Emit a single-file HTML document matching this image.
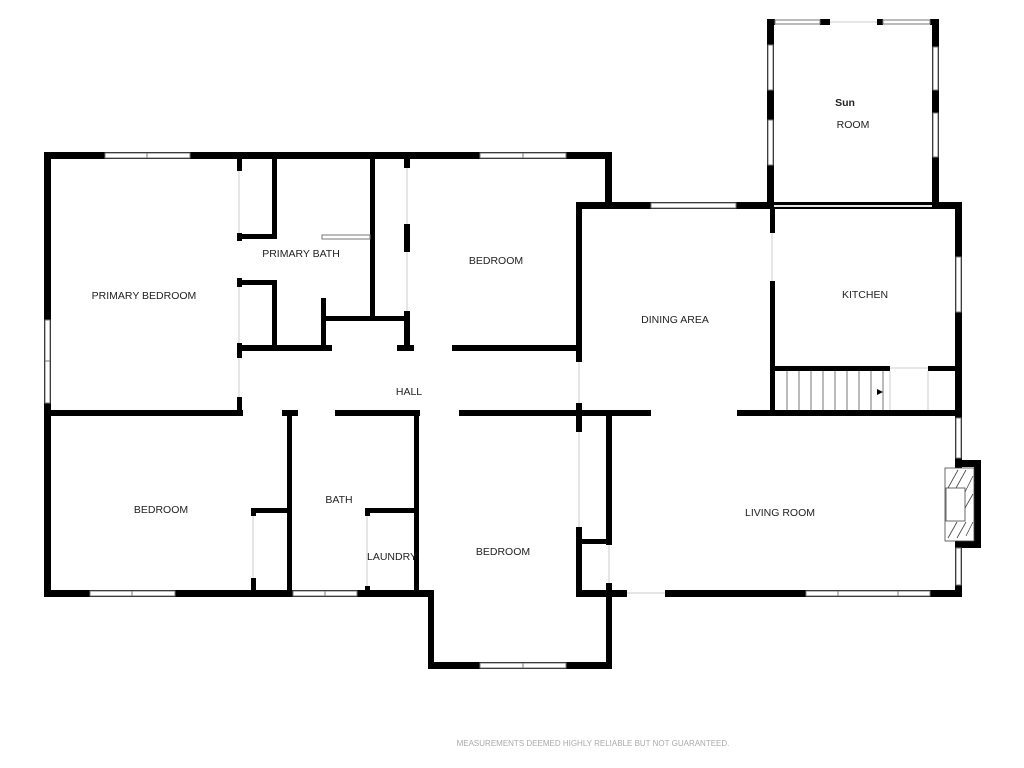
<!DOCTYPE html>
<html><head><meta charset="utf-8"><style>
html,body{margin:0;padding:0;background:#fff;}
svg{display:block;}
text{font-family:"Liberation Sans",sans-serif;font-size:10.5px;fill:#222;text-anchor:middle;}
</style></head><body>
<svg width="1024" height="768" viewBox="0 0 1024 768" xmlns="http://www.w3.org/2000/svg">
<g fill="#000">
<rect x="44" y="152" width="568" height="7"/>
<rect x="44" y="152" width="7" height="445"/>
<rect x="605" y="152" width="7" height="55"/>
<rect x="576" y="202" width="386" height="7"/>
<rect x="576" y="202" width="6" height="160"/>
<rect x="576" y="403" width="6" height="29"/>
<rect x="767" y="19" width="7" height="188"/>
<rect x="932" y="19" width="7" height="188"/>
<rect x="767" y="19" width="8" height="6"/>
<rect x="820" y="19" width="10" height="6"/>
<rect x="877" y="19" width="6" height="6"/>
<rect x="930" y="19" width="9" height="6"/>
<rect x="955" y="202" width="7" height="395"/>
<rect x="770" y="209" width="5" height="24"/>
<rect x="770" y="281" width="5" height="135"/>
<rect x="770" y="366" width="120" height="5"/>
<rect x="928" y="366" width="34" height="5"/>
<rect x="237" y="159" width="5" height="12"/>
<rect x="237" y="233" width="5" height="8"/>
<rect x="237" y="278" width="5" height="9"/>
<rect x="237" y="343" width="5" height="15"/>
<rect x="237" y="397" width="5" height="16"/>
<rect x="239" y="234" width="38" height="5"/>
<rect x="272" y="159" width="5" height="80"/>
<rect x="239" y="280" width="38" height="5"/>
<rect x="272" y="280" width="5" height="70"/>
<rect x="239" y="345" width="93" height="6"/>
<rect x="397" y="345" width="17" height="6"/>
<rect x="452" y="345" width="127" height="6"/>
<rect x="321" y="298" width="5" height="52"/>
<rect x="321" y="316" width="87" height="5"/>
<rect x="370" y="159" width="5" height="162"/>
<rect x="404" y="159" width="6" height="9"/>
<rect x="404" y="224" width="6" height="28"/>
<rect x="404" y="311" width="6" height="40"/>
<rect x="44" y="410" width="199" height="6"/>
<rect x="282" y="410" width="16" height="6"/>
<rect x="335" y="410" width="85" height="6"/>
<rect x="459" y="410" width="192" height="6"/>
<rect x="737" y="410" width="225" height="6"/>
<rect x="287" y="410" width="5" height="187"/>
<rect x="414" y="410" width="5" height="187"/>
<rect x="251" y="508" width="38" height="5"/>
<rect x="251" y="508" width="5" height="8"/>
<rect x="251" y="578" width="5" height="14"/>
<rect x="365" y="508" width="52" height="5"/>
<rect x="365" y="508" width="5" height="8"/>
<rect x="365" y="586" width="5" height="6"/>
<rect x="576" y="527" width="6" height="70"/>
<rect x="576" y="539" width="34" height="5"/>
<rect x="606" y="410" width="6" height="135"/>
<rect x="606" y="583" width="6" height="85"/>
<rect x="44" y="590" width="390" height="7"/>
<rect x="428" y="590" width="6" height="78"/>
<rect x="428" y="662" width="184" height="7"/>
<rect x="576" y="590" width="51" height="7"/>
<rect x="665" y="590" width="297" height="7"/>
<rect x="955" y="460" width="26" height="7"/>
<rect x="974" y="460" width="7" height="88"/>
<rect x="955" y="541" width="26" height="7"/>
</g>
<g stroke="#e6e6e6" stroke-width="2" fill="none">
<line x1="239" y1="171" x2="239" y2="233"/><line x1="239" y1="287" x2="239" y2="343"/><line x1="239" y1="358" x2="239" y2="397"/>
<line x1="407" y1="168" x2="407" y2="224"/><line x1="407" y1="252" x2="407" y2="311"/>
<line x1="579" y1="432" x2="579" y2="527"/><line x1="609" y1="545" x2="609" y2="583"/>
<line x1="253" y1="516" x2="253" y2="578"/><line x1="367" y1="516" x2="367" y2="586"/>
<line x1="774" y1="206" x2="932" y2="206"/><line x1="772" y1="233" x2="772" y2="281"/>
<line x1="579" y1="362" x2="579" y2="403"/>
<line x1="890" y1="368" x2="928" y2="368"/><line x1="890" y1="371" x2="890" y2="410"/><line x1="928" y1="371" x2="928" y2="410"/>
<line x1="627" y1="593" x2="665" y2="593"/>
<line x1="830" y1="22" x2="877" y2="22"/>
</g>
<g fill="#fff" stroke="#777" stroke-width="1">
<rect x="105" y="153" width="85" height="5"/><line x1="147" y1="153" x2="147" y2="158"/>
<rect x="480" y="153" width="86" height="5"/><line x1="523" y1="153" x2="523" y2="158"/>
<rect x="45" y="320" width="5" height="83"/><line x1="45" y1="361" x2="50" y2="361"/>
<rect x="651" y="203" width="85" height="5"/>
<rect x="775" y="20" width="45" height="4"/><rect x="883" y="20" width="47" height="4"/>
<rect x="768" y="45" width="5" height="45"/><rect x="768" y="120" width="5" height="45"/>
<rect x="933" y="47" width="5" height="43"/><rect x="933" y="113" width="5" height="44"/>
<rect x="956" y="257" width="5" height="55"/>
<rect x="956" y="418" width="5" height="40"/><rect x="956" y="548" width="5" height="37"/>
<rect x="90" y="591" width="85" height="5"/><line x1="132" y1="591" x2="132" y2="596"/>
<rect x="293" y="591" width="64" height="5"/><line x1="325" y1="591" x2="325" y2="596"/>
<rect x="480" y="663" width="86" height="5"/><line x1="523" y1="663" x2="523" y2="668"/>
<rect x="806" y="591" width="124" height="5"/><line x1="838" y1="591" x2="838" y2="596"/><line x1="898" y1="591" x2="898" y2="596"/>
<rect x="322" y="235" width="48" height="4"/>
</g>
<g stroke="#555" stroke-width="0.8">
<line x1="787" y1="371" x2="787" y2="410"/><line x1="799" y1="371" x2="799" y2="410"/><line x1="811" y1="371" x2="811" y2="410"/>
<line x1="823" y1="371" x2="823" y2="410"/><line x1="835" y1="371" x2="835" y2="410"/><line x1="847" y1="371" x2="847" y2="410"/>
<line x1="859" y1="371" x2="859" y2="410"/><line x1="871" y1="371" x2="871" y2="410"/><line x1="883" y1="371" x2="883" y2="410"/>
</g>
<polygon points="877,389 883,392 877,395" fill="#000"/>
<g stroke="#444" stroke-width="0.8" fill="#fff">
<rect x="945" y="468" width="29" height="73"/>
<rect x="946" y="488" width="19" height="33"/>
<line x1="948" y1="488" x2="958" y2="470"/><line x1="956" y1="488" x2="966" y2="470"/><line x1="965" y1="492" x2="973" y2="476"/>
<line x1="965" y1="508" x2="973" y2="494"/><line x1="948" y1="538" x2="957" y2="522"/><line x1="957" y1="538" x2="966" y2="522"/><line x1="966" y1="536" x2="973" y2="522"/>
</g>
<text x="144" y="299">PRIMARY BEDROOM</text>
<text x="301" y="257">PRIMARY BATH</text>
<text x="496" y="264">BEDROOM</text>
<text x="409" y="395">HALL</text>
<text x="675" y="323">DINING AREA</text>
<text x="865" y="298">KITCHEN</text>
<text x="845" y="106" style="font-weight:bold">Sun</text>
<text x="853" y="128">ROOM</text>
<text x="161" y="513">BEDROOM</text>
<text x="339" y="503">BATH</text>
<text x="392" y="560">LAUNDRY</text>
<text x="503" y="555">BEDROOM</text>
<text x="780" y="516">LIVING ROOM</text>
<text x="593" y="746" style="font-size:8px;fill:#aaa">MEASUREMENTS DEEMED HIGHLY RELIABLE BUT NOT GUARANTEED.</text>
</svg>
</body></html>
